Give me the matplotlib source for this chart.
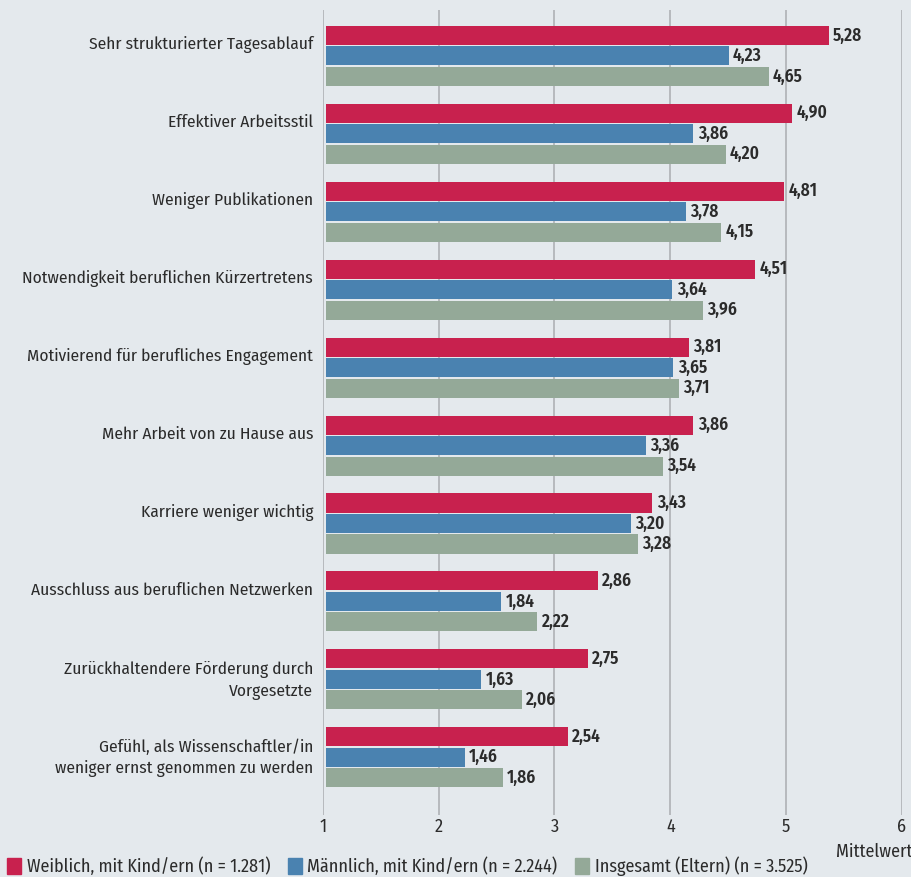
import numpy as np
import matplotlib
matplotlib.use('Agg')
import matplotlib.pyplot as plt
from matplotlib.patches import Patch
from matplotlib.transforms import ScaledTranslation

plt.rcParams['font.family'] = ['Fira Sans Condensed', 'Roboto Condensed',
                               'Liberation Sans Narrow', 'DejaVu Sans']

# Daten
kategorien = [
    "Sehr strukturierter Tagesablauf",
    "Effektiver Arbeitsstil",
    "Weniger Publikationen",
    "Notwendigkeit beruflichen Kürzertretens",
    "Motivierend für berufliches Engagement",
    "Mehr Arbeit von zu Hause aus",
    "Karriere weniger wichtig",
    "Ausschluss aus beruflichen Netzwerken",
    "Zurückhaltendere Förderung durch\nVorgesetzte",
    "Gefühl, als Wissenschaftler/in\nweniger ernst genommen zu werden",
]
weiblich = [5.28, 4.90, 4.81, 4.51, 3.81, 3.86, 3.43, 2.86, 2.75, 2.54]
maennlich = [4.23, 3.86, 3.78, 3.64, 3.65, 3.36, 3.20, 1.84, 1.63, 1.46]
insgesamt = [4.65, 4.20, 4.15, 3.96, 3.71, 3.54, 3.28, 2.22, 2.06, 1.86]
tick_labels = ["1", "2", "3", "4", "5", "6"]
serien_namen = [
    "Weiblich, mit Kind/ern (n = 1.281)",
    "Männlich, mit Kind/ern (n = 2.244)",
    "Insgesamt (Eltern) (n = 3.525)",
]
farben = ["#c8214e", "#4a82b0", "#94a998"]
bg = "#e4e9ed"
txt = "#2b2b2b"

fig = plt.figure(figsize=(9.12, 8.77), dpi=100, facecolor=bg)
ax = fig.add_axes([0.354, 0.0707, 0.635, 0.918])
ax.set_facecolor(bg)

# Balken beginnen bei 0, Gitterlinien wie im Original etwas gestaucht
x_min, x_max = -0.0315, 6.05
tick_step = (x_max - x_min) / 5

y = np.arange(len(kategorien))
h = 0.245
off = 0.263
for werte, dy, farbe in zip([weiblich, maennlich, insgesamt], [-off, 0, off], farben):
    bars = ax.barh(y + dy, werte, height=h, color=farbe, zorder=3)
    for b, w in zip(bars, werte):
        ax.text(w + 0.045, b.get_y() + b.get_height() / 2,
                f"{w:.2f}".replace(".", ","), va="center", ha="left",
                fontsize=12.5, fontweight="semibold", color=txt, zorder=4)

ax.set_xlim(x_min, x_max)
ax.set_ylim(9.74, -0.59)
ax.set_xticks([x_min + i * tick_step for i in range(6)])
ax.set_xticklabels(tick_labels, fontsize=13, color=txt)
ax.tick_params(axis="x", length=0, pad=2)
ax.grid(axis="x", color="#b3b6b9", linewidth=1.3, zorder=0)
ax.set_yticks(y)
ax.set_yticklabels(kategorien, fontsize=12.5, color=txt, linespacing=1.4)
ax.tick_params(axis="y", length=0, pad=7)
for lbl, k in zip(ax.get_yticklabels(), kategorien):
    dy_in = 0.04 if "\n" in k else 0.13
    lbl.set_transform(lbl.get_transform() + ScaledTranslation(0, dy_in, fig.dpi_scale_trans))
for s in ax.spines.values():
    s.set_visible(False)

fig.text(1.0, 1 - 852 / 877, "Mittelwert", ha="right", va="center", fontsize=13, color=txt)

handles = [Patch(color=c) for c in farben]
fig.legend(handles, serien_namen, loc="center left", bbox_to_anchor=(7 / 912, 1 - 866 / 877),
           ncol=3, frameon=False, fontsize=13, handlelength=0.8, handleheight=1.0,
           handletextpad=0.3, columnspacing=0.95, labelcolor=txt,
           borderpad=0, borderaxespad=0)

fig.savefig("out.png", dpi=100, facecolor=bg)
